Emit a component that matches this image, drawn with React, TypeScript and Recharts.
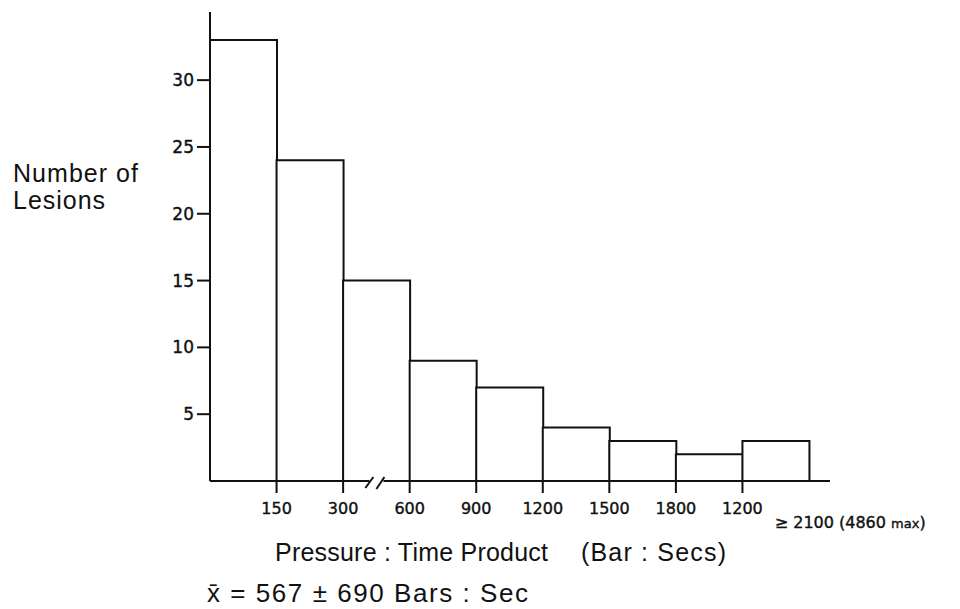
import React from 'react';
import { BarChart, Bar, XAxis, YAxis } from 'recharts';

const ranges = ['0-150', '150-300', '300-600', '600-900', '900-1200', '1200-1500', '1500-1800', '1800-2100', '>=2100'];
const lesionCounts = [33, 24, 15, 9, 7, 4, 3, 2, 3];
const edgeLabels = ['150', '300', '600', '900', '1200', '1500', '1800', '1200', ''];
const yTicks = [5, 10, 15, 20, 25, 30];

const data = ranges.map((range, i) => ({ range, count: lesionCounts[i] }));

const W = 960;
const H = 609;
const PLOT_LEFT = 210;
const PLOT_RIGHT = 830;
const PLOT_TOP = 12;
const AXIS_Y = 481;
const PAD_RIGHT = 21;
const X_AXIS_H = 30;
const BAND = (PLOT_RIGHT - PLOT_LEFT - PAD_RIGHT) / ranges.length;

const INK = '#111';
const DIGITS = '"DejaVu Sans", sans-serif';
const HELV = '"Liberation Sans", Arial, sans-serif';

// open-bottomed box, the axis line is the bottom
const OpenBar = (props: any) => {
  const { x, y, width, height } = props;
  if (height <= 0) return null;
  return (
    <path
      d={`M${x},${y + height} L${x},${y} L${x + width},${y} L${x + width},${y + height}`}
      fill="#fff"
      stroke={INK}
      strokeWidth={2}
    />
  );
};

// ticks sit on the bin edges, not the bin centres
const XTick = (props: any) => {
  const { x, y, index } = props;
  const edge = x + BAND / 2;
  const label = edgeLabels[index];
  return (
    <g>
      {index === 2 && (
        <g>
          <rect x={x - 7} y={y - 3} width={14} height={6} fill="#fff" />
          <line x1={x - 11} y1={y + 7} x2={x - 3} y2={y - 4} stroke={INK} strokeWidth={2} />
          <line x1={x} y1={y + 8} x2={x + 8} y2={y - 4} stroke={INK} strokeWidth={2} />
        </g>
      )}
      {label && (
        <g>
          <line x1={edge} y1={y} x2={edge} y2={y + 12} stroke={INK} strokeWidth={2} />
          <text x={edge} y={y + 33} textAnchor="middle" fontSize={16} fontFamily={DIGITS} fill={INK} stroke={INK} strokeWidth={0.4}>
            {label}
          </text>
        </g>
      )}
      {index === ranges.length - 1 && (
        <text x={x - 1} y={y + 47} fontSize={16} fontFamily={DIGITS} fill={INK} stroke={INK} strokeWidth={0.4}>
          ≥ 2100 (4860 <tspan fontSize={13}>max</tspan>)
        </text>
      )}
    </g>
  );
};

export default function App() {
  return (
    <div style={{ position: 'absolute', left: 0, top: 0, width: W, height: H, background: '#fff' }}>
      <BarChart
        width={W}
        height={H}
        data={data}
        margin={{ top: PLOT_TOP, right: W - PLOT_RIGHT, left: PLOT_LEFT - 60, bottom: H - AXIS_Y - X_AXIS_H }}
        barCategoryGap={0}
      >
        <XAxis
          dataKey="range"
          height={X_AXIS_H}
          padding={{ left: 0, right: PAD_RIGHT }}
          axisLine={{ stroke: INK, strokeWidth: 2 }}
          tickLine={false}
          tickSize={0}
          tickMargin={0}
          interval={0}
          tick={<XTick />}
        />
        <YAxis
          type="number"
          domain={[0, 35.1]}
          ticks={yTicks}
          width={60}
          allowDataOverflow
          axisLine={{ stroke: INK, strokeWidth: 2 }}
          tickLine={{ stroke: INK, strokeWidth: 2 }}
          tickSize={13}
          tickMargin={3}
          tick={{ fill: INK, fontSize: 17, fontFamily: DIGITS, stroke: INK, strokeWidth: 0.4 }}
        />
        <Bar dataKey="count" shape={<OpenBar />} isAnimationActive={false} />
      </BarChart>
      <svg width={W} height={H} style={{ position: 'absolute', left: 0, top: 0, pointerEvents: 'none' }}>
        <text x={13} y={182} fontSize={25} fontFamily={HELV} fill={INK} textLength={125} lengthAdjust="spacing">
          Number of
        </text>
        <text x={13} y={209} fontSize={25} fontFamily={HELV} fill={INK} textLength={92} lengthAdjust="spacing">
          Lesions
        </text>
        <text x={275} y={561} fontSize={25} fontFamily={HELV} fill={INK} textLength={273} lengthAdjust="spacing">
          Pressure : Time Product
        </text>
        <text x={581} y={561} fontSize={25} fontFamily={HELV} fill={INK} textLength={145} lengthAdjust="spacing">
          (Bar : Secs)
        </text>
        <text x={207} y={602} fontSize={26} fontFamily={HELV} fill={INK} textLength={321} lengthAdjust="spacing">
          x̄ = 567 ± 690 Bars : Sec
        </text>
      </svg>
    </div>
  );
}
